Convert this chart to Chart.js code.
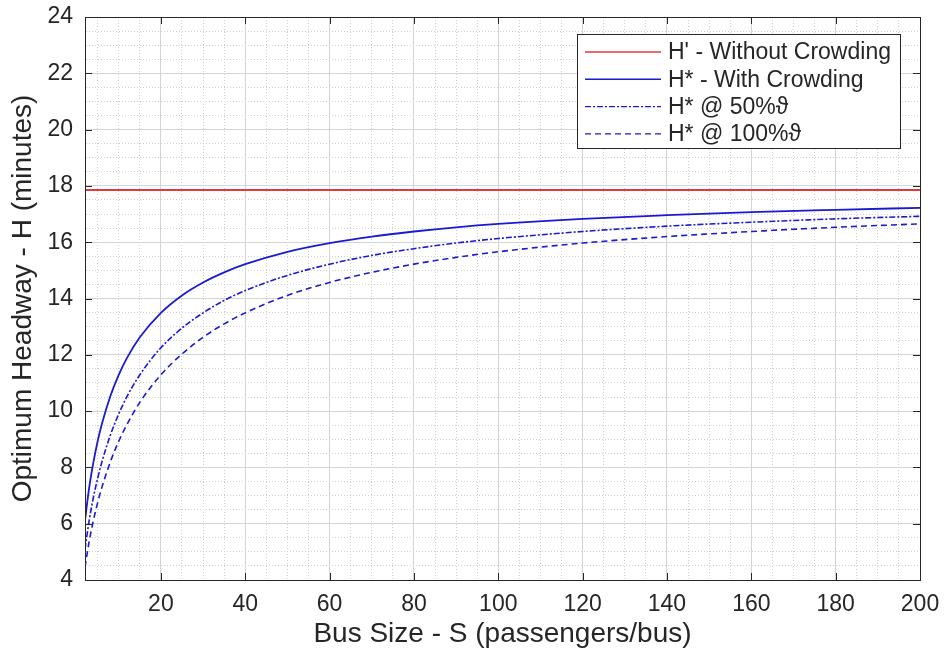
<!DOCTYPE html>
<html lang="en">
<head>
<meta charset="UTF-8">
<title>Optimum Headway vs Bus Size</title>
<script src="https://cdn.jsdelivr.net/npm/chart.js"></script>
<style>
  body { margin: 0; background: #fff; }
</style>
</head>
<body>
<canvas id="headwayChart" width="946" height="653"></canvas>

<script>
// bus size S (passengers/bus)
const busSize = [2, 3, 4, 5, 6, 8, 10, 12, 15, 20, 25, 30, 35, 40, 50, 60, 70, 80, 90, 100, 120, 140, 160, 180, 200];

// H' without crowding is flat over the whole range
const noCrowdingSize = [2, 200];
const headwayNoCrowding = [17.85, 17.85];

// H* curves (minutes)
const headwayCrowding = [6.12, 7.29, 8.19, 8.93, 9.54, 10.53, 11.29, 11.90, 12.62, 13.49, 14.11, 14.57, 14.93, 15.22, 15.66, 15.97, 16.20, 16.38, 16.53, 16.65, 16.83, 16.96, 17.07, 17.15, 17.22];
const headway50 = [5.10, 6.12, 6.94, 7.61, 8.19, 9.14, 9.90, 10.53, 11.29, 12.25, 12.95, 13.49, 13.93, 14.28, 14.82, 15.22, 15.53, 15.77, 15.97, 16.13, 16.38, 16.57, 16.71, 16.83, 16.92];
const headway100 = [4.46, 5.38, 6.12, 6.75, 7.29, 8.19, 8.93, 9.54, 10.31, 11.29, 12.03, 12.62, 13.10, 13.49, 14.11, 14.57, 14.93, 15.22, 15.46, 15.66, 15.97, 16.20, 16.38, 16.53, 16.65];

const seriesLabels = ["H' - Without Crowding", "H* - With Crowding", "H* @ 50%\u03D1", "H* @ 100%\u03D1"];

const FONT = 'Arial, "Liberation Sans", Helvetica, sans-serif';
const INK = '#262626';
const RED = '#e03a3a';
const BLUE = '#1a1ad2';

const toPoints = (xs, ys) => xs.map((x, i) => ({ x: x, y: ys[i] }));

function stepTicks(from, to, step) {
  const t = [];
  for (let v = from; v <= to + 1e-9; v += step) t.push({ value: +v.toFixed(2) });
  return t;
}

// box around the axes, inward ticks and the legend
const matlabFrame = {
  id: 'matlabFrame',
  afterDatasetsDraw(chart) {
    const { ctx, chartArea: a, scales } = chart;
    ctx.save();
    ctx.strokeStyle = INK;
    ctx.lineWidth = 1;
    ctx.strokeRect(a.left + 0.5, a.top + 0.5, a.right - a.left, a.bottom - a.top);

    ctx.beginPath();
    scales.x.ticks.forEach(t => {
      if (t.value % 20 !== 0) return;
      const px = Math.round(scales.x.getPixelForValue(t.value)) + 0.5;
      ctx.moveTo(px, a.bottom); ctx.lineTo(px, a.bottom - 7);
      ctx.moveTo(px, a.top); ctx.lineTo(px, a.top + 7);
    });
    scales.y.ticks.forEach(t => {
      if (t.value % 2 !== 0) return;
      const py = Math.round(scales.y.getPixelForValue(t.value)) + 0.5;
      ctx.moveTo(a.left, py); ctx.lineTo(a.left + 7, py);
      ctx.moveTo(a.right, py); ctx.lineTo(a.right - 7, py);
    });
    ctx.stroke();

    // legend
    const bx = a.right - 343, by = a.top + 17, bw = 323, bh = 114;
    ctx.fillStyle = '#fff';
    ctx.fillRect(bx, by, bw, bh);
    ctx.strokeStyle = INK;
    ctx.strokeRect(bx + 0.5, by + 0.5, bw, bh);
    ctx.font = '23px ' + FONT;
    ctx.textBaseline = 'middle';
    chart.data.datasets.forEach((ds, i) => {
      const cy = by + 18 + i * 27.3;
      ctx.beginPath();
      ctx.strokeStyle = ds.borderColor;
      ctx.lineWidth = 1.4;
      ctx.setLineDash(ds.borderDash || []);
      ctx.moveTo(bx + 8, cy); ctx.lineTo(bx + 84, cy);
      ctx.stroke();
      ctx.setLineDash([]);
      ctx.fillStyle = INK;
      ctx.fillText(ds.label, bx + 91, cy + 1);
    });
    ctx.restore();
  }
};

new Chart(document.getElementById('headwayChart'), {
  type: 'line',
  data: {
    datasets: [
      { label: seriesLabels[0], data: toPoints(noCrowdingSize, headwayNoCrowding), borderColor: RED, borderWidth: 2 },
      { label: seriesLabels[1], data: toPoints(busSize, headwayCrowding), borderColor: BLUE, borderWidth: 1.8 },
      { label: seriesLabels[2], data: toPoints(busSize, headway50), borderColor: BLUE, borderWidth: 1.6, borderDash: [6, 2, 2, 2] },
      { label: seriesLabels[3], data: toPoints(busSize, headway100), borderColor: BLUE, borderWidth: 1.6, borderDash: [6, 4] }
    ]
  },
  options: {
    responsive: false,
    animation: false,
    layout: { padding: { top: 17, right: 26, left: 0, bottom: 0 } },
    elements: {
      point: { radius: 0 },
      line: { cubicInterpolationMode: 'monotone', fill: false }
    },
    plugins: { legend: { display: false }, tooltip: { enabled: false } },
    scales: {
      x: {
        type: 'linear',
        min: 2,
        max: 200,
        afterBuildTicks: s => { s.ticks = stepTicks(5, 200, 5); },
        afterFit: s => { s.height = 73; s.paddingLeft = 0; s.paddingRight = 0; },
        ticks: {
          autoSkip: false,
          maxRotation: 0,
          padding: 11,
          color: INK,
          font: { family: FONT, size: 23 },
          callback: v => (v % 20 === 0 ? v : '')
        },
        grid: {
          drawTicks: false,
          color: c => (c.tick && c.tick.value % 20 === 0 ? '#d4d4d4' : '#d0d0d0'),
          lineWidth: 1
        },
        border: {
          color: INK,
          dash: c => (c.tick && c.tick.value % 20 !== 0 ? [1, 2] : [])
        },
        title: {
          display: true,
          text: 'Bus Size - S (passengers/bus)',
          color: INK,
          font: { family: FONT, size: 28 },
          padding: { top: 0, bottom: 2 }
        }
      },
      y: {
        min: 4,
        max: 24,
        afterBuildTicks: s => { s.ticks = stepTicks(4, 24, 0.5); },
        afterFit: s => { s.width = 85; s.paddingTop = 0; s.paddingBottom = 0; },
        ticks: {
          autoSkip: false,
          padding: 12,
          color: INK,
          font: { family: FONT, size: 23 },
          callback: v => (v % 2 === 0 ? v : '')
        },
        grid: {
          drawTicks: false,
          color: c => (c.tick && c.tick.value % 2 === 0 ? '#d4d4d4' : '#d0d0d0'),
          lineWidth: 1
        },
        border: {
          color: INK,
          dash: c => (c.tick && c.tick.value % 2 !== 0 ? [1, 2] : [])
        },
        title: {
          display: true,
          text: 'Optimum Headway - H (minutes)',
          color: INK,
          font: { family: FONT, size: 28 },
          padding: { top: 6, bottom: 0 }
        }
      }
    }
  },
  plugins: [matlabFrame]
});
</script>
</body>
</html>
